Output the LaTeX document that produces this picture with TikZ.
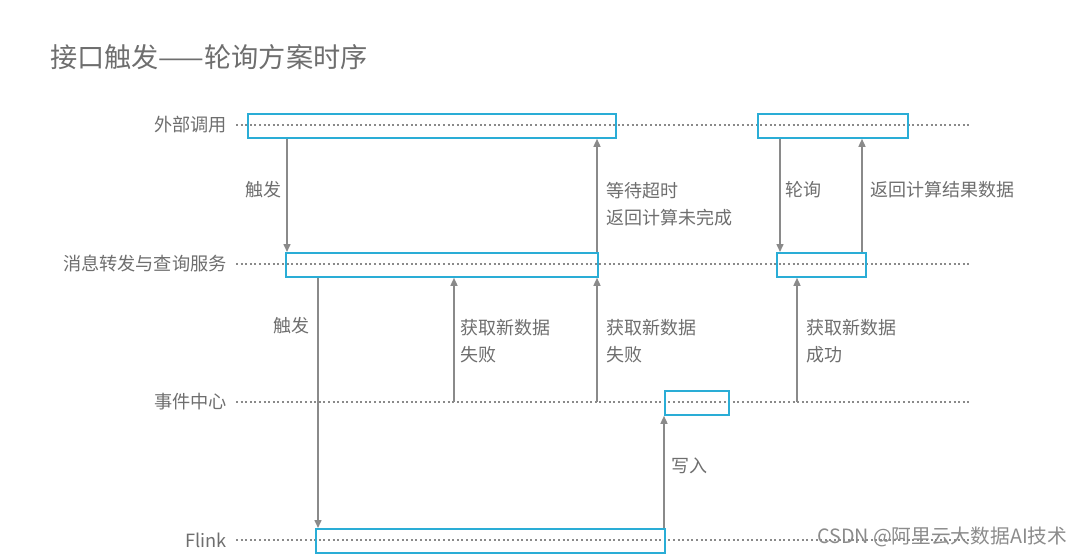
\documentclass[tikz,border=0pt]{standalone}
\usepackage{fontspec}
\setmainfont{Noto Sans CJK SC}
\usetikzlibrary{arrows.meta}
\definecolor{boxc}{HTML}{2AADD6}
\definecolor{linec}{HTML}{8A8A8A}
\definecolor{txtc}{HTML}{6E6E6E}
\begin{document}
\begin{tikzpicture}[x=1pt,y=-1pt,
  lifeline/.style={linec,line width=1.2pt,dash pattern=on 2pt off 2.6pt},
  actbox/.style={draw=boxc,line width=1.8pt,minimum height=24pt,inner sep=0pt,anchor=north west},
  arr/.style={linec,line width=1.5pt,-{Triangle[length=8pt,width=7pt]}},
  lbl/.style={txtc,font=\fontsize{18}{26.5}\selectfont,inner sep=0pt,align=left},
  lanelbl/.style={txtc,font=\fontsize{18.2}{22}\selectfont,inner sep=0pt,anchor=east}]
\useasboundingbox (0,0) rectangle (1080,555);
% title
\node[txtc,font=\fontsize{27.2}{32}\selectfont,anchor=west,inner sep=0pt] (title) at (50,57) {接口触发——轮询方案时序};
% lifelines
\foreach \n/\y/\t in {A/125/外部调用,B/264/消息转发与查询服务,C/402/事件中心,D/540/Flink}{
  \node[lanelbl] (lab\n) at (227,\y) {\t};
  \coordinate (s\n) at (236,\y);
  \coordinate (e\n) at (970,\y);
  \draw[lifeline] (s\n) -- (e\n);
}
% activation boxes
\node[actbox,minimum width=368pt] (a1) at (247,113) {};
\node[actbox,minimum width=150pt] (a2) at (757,113) {};
\node[actbox,minimum width=312pt] (b1) at (285,252) {};
\node[actbox,minimum width=89pt] (b2) at (776,252) {};
\node[actbox,minimum width=64pt] (c1) at (664,390) {};
\node[actbox,minimum width=349pt] (d1) at (315,528) {};
% arrows
\draw[arr] (287,0 |- a1.south) -- (287,0 |- b1.north);
\draw[arr] (597,0 |- b1.north) -- (597,0 |- a1.south);
\draw[arr] (780,0 |- a2.south) -- (780,0 |- b2.north);
\draw[arr] (862,0 |- b2.north) -- (862,0 |- a2.south);
\draw[arr] (318,0 |- b1.south) -- (318,0 |- d1.north);
\draw[arr] (454,0 |- sC) -- (454,0 |- b1.south);
\draw[arr] (597,0 |- sC) -- (597,0 |- b1.south);
\draw[arr] (797,0 |- sC) -- (797,0 |- b2.south);
\draw[arr] (664,0 |- d1.north) -- (664,0 |- c1.south);
% labels
\node[lbl,anchor=west] (l1) at (245,190) {触发};
\node[lbl,anchor=north west] (l2) at (606,182.5) {等待超时\\返回计算未完成};
\node[lbl,anchor=west] (l3) at (785,190) {轮询};
\node[lbl,anchor=west] (l4) at (870,190) {返回计算结果数据};
\node[lbl,anchor=west] (l5) at (273,326) {触发};
\node[lbl,anchor=north west] (l6) at (460,319.5) {获取新数据\\失败};
\node[lbl,anchor=north west] (l7) at (606,319.5) {获取新数据\\失败};
\node[lbl,anchor=north west] (l8) at (806,319.5) {获取新数据\\成功};
\node[lbl,anchor=west] (l9) at (671,466) {写入};
% watermark
\node[txtc!80,font=\fontsize{19.7}{24}\selectfont,anchor=west,inner sep=0pt] (wm) at (817,537) {CSDN @阿里云大数据AI技术};
\end{tikzpicture}
\end{document}
